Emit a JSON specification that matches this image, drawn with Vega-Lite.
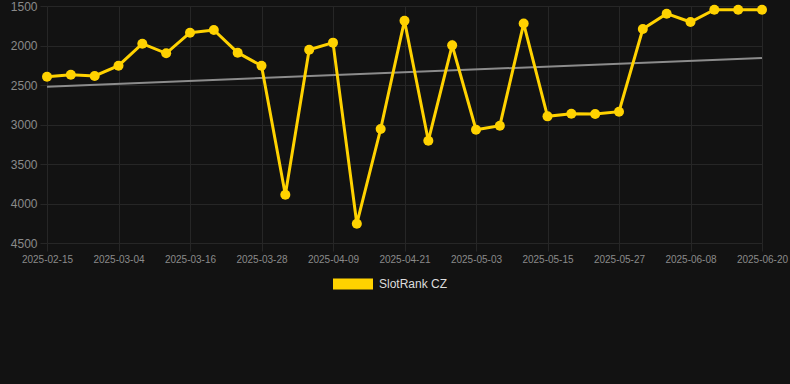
{
  "$schema": "https://vega.github.io/schema/vega-lite/v6.json",
  "width": 715,
  "height": 237,
  "autosize": {"type": "none"},
  "padding": {"left": 47, "top": 6, "right": 28, "bottom": 141},
  "background": "#121212",
  "config": {
    "view": {"stroke": null},
    "font": "Liberation Sans",
    "numberFormat": "d",
    "axis": {"labelOverlap": false}
  },
  "data": {
    "values": [
      {"date": "2025-02-15", "rank": 2395},
      {"date": "2025-02-21", "rank": 2370},
      {"date": "2025-02-27", "rank": 2386},
      {"date": "2025-03-04", "rank": 2256},
      {"date": "2025-03-08", "rank": 1977},
      {"date": "2025-03-12", "rank": 2099},
      {"date": "2025-03-16", "rank": 1838},
      {"date": "2025-03-20", "rank": 1804},
      {"date": "2025-03-24", "rank": 2091},
      {"date": "2025-03-28", "rank": 2256},
      {"date": "2025-04-01", "rank": 3889},
      {"date": "2025-04-05", "rank": 2053},
      {"date": "2025-04-09", "rank": 1964},
      {"date": "2025-04-13", "rank": 4256},
      {"date": "2025-04-17", "rank": 3057},
      {"date": "2025-04-21", "rank": 1686},
      {"date": "2025-04-25", "rank": 3205},
      {"date": "2025-04-29", "rank": 1998},
      {"date": "2025-05-03", "rank": 3066},
      {"date": "2025-05-07", "rank": 3015},
      {"date": "2025-05-11", "rank": 1722},
      {"date": "2025-05-15", "rank": 2897},
      {"date": "2025-05-19", "rank": 2863},
      {"date": "2025-05-23", "rank": 2867},
      {"date": "2025-05-27", "rank": 2838},
      {"date": "2025-05-31", "rank": 1791},
      {"date": "2025-06-04", "rank": 1597},
      {"date": "2025-06-08", "rank": 1703},
      {"date": "2025-06-12", "rank": 1547},
      {"date": "2025-06-16", "rank": 1547},
      {"date": "2025-06-20", "rank": 1547}
    ]
  },
  "encoding": {
    "x": {
      "field": "date",
      "type": "ordinal",
      "scale": {"type": "point", "padding": 0},
      "axis": {
        "title": null,
        "values": ["2025-02-15", "2025-03-04", "2025-03-16", "2025-03-28", "2025-04-09", "2025-04-21", "2025-05-03", "2025-05-15", "2025-05-27", "2025-06-08", "2025-06-20"],
        "labelAngle": 0,
        "labelColor": "#8a8a8a",
        "labelFontSize": 10,
        "labelPadding": 3,
        "labelOverlap": false,
        "grid": true,
        "gridColor": "#262626",
        "gridWidth": 1,
        "tickColor": "#262626",
        "tickSize": 8,
        "domain": false
      }
    }
  },
  "layer": [
    {
      "data": {"values": [{"date": "2025-02-15", "trend": 2521}, {"date": "2025-06-20", "trend": 2158}]},
      "mark": {"type": "line", "color": "#8c8c8c", "strokeWidth": 2},
      "encoding": {
        "y": {
          "field": "trend",
          "type": "quantitative",
          "scale": {"domain": [1500, 4500], "reverse": true, "nice": false, "zero": false},
          "axis": {
            "title": null,
            "values": [1500, 2000, 2500, 3000, 3500, 4000, 4500],
            "format": "d",
            "labelOverlap": false,
            "labelColor": "#8a8a8a",
            "labelFontSize": 12,
            "labelPadding": 3,
            "grid": true,
            "gridColor": "#262626",
            "tickColor": "#262626",
            "tickSize": 7,
            "domain": false
          }
        }
      }
    },
    {
      "mark": {"type": "line", "strokeWidth": 3},
      "encoding": {
        "y": {
          "field": "rank",
          "type": "quantitative",
          "axis": {
            "title": null,
            "values": [1500, 2000, 2500, 3000, 3500, 4000, 4500],
            "format": "d",
            "labelOverlap": false,
            "labelColor": "#8a8a8a",
            "labelFontSize": 12,
            "labelPadding": 3,
            "grid": true,
            "gridColor": "#262626",
            "tickColor": "#262626",
            "tickSize": 7,
            "domain": false
          }
        },
        "color": {
          "datum": "SlotRank CZ",
          "scale": {"range": ["#FFD200"]},
          "legend": {
            "title": null,
            "orient": "none",
            "legendX": 286,
            "legendY": 258,
            "symbolType": "M-1,-0.275L1,-0.275L1,0.275L-1,0.275Z",
            "symbolSize": 1600,
            "symbolStrokeWidth": 0,
            "symbolFillColor": "#FFD200",
            "labelColor": "#dddddd",
            "labelFontSize": 12,
            "labelOffset": 6
          }
        }
      }
    },
    {
      "mark": {"type": "point", "filled": true, "size": 100, "opacity": 1},
      "encoding": {
        "y": {
          "field": "rank",
          "type": "quantitative",
          "axis": {
            "title": null,
            "values": [1500, 2000, 2500, 3000, 3500, 4000, 4500],
            "format": "d",
            "labelOverlap": false,
            "labelColor": "#8a8a8a",
            "labelFontSize": 12,
            "labelPadding": 3,
            "grid": true,
            "gridColor": "#262626",
            "tickColor": "#262626",
            "tickSize": 7,
            "domain": false
          }
        },
        "color": {"datum": "SlotRank CZ"}
      }
    }
  ]
}
